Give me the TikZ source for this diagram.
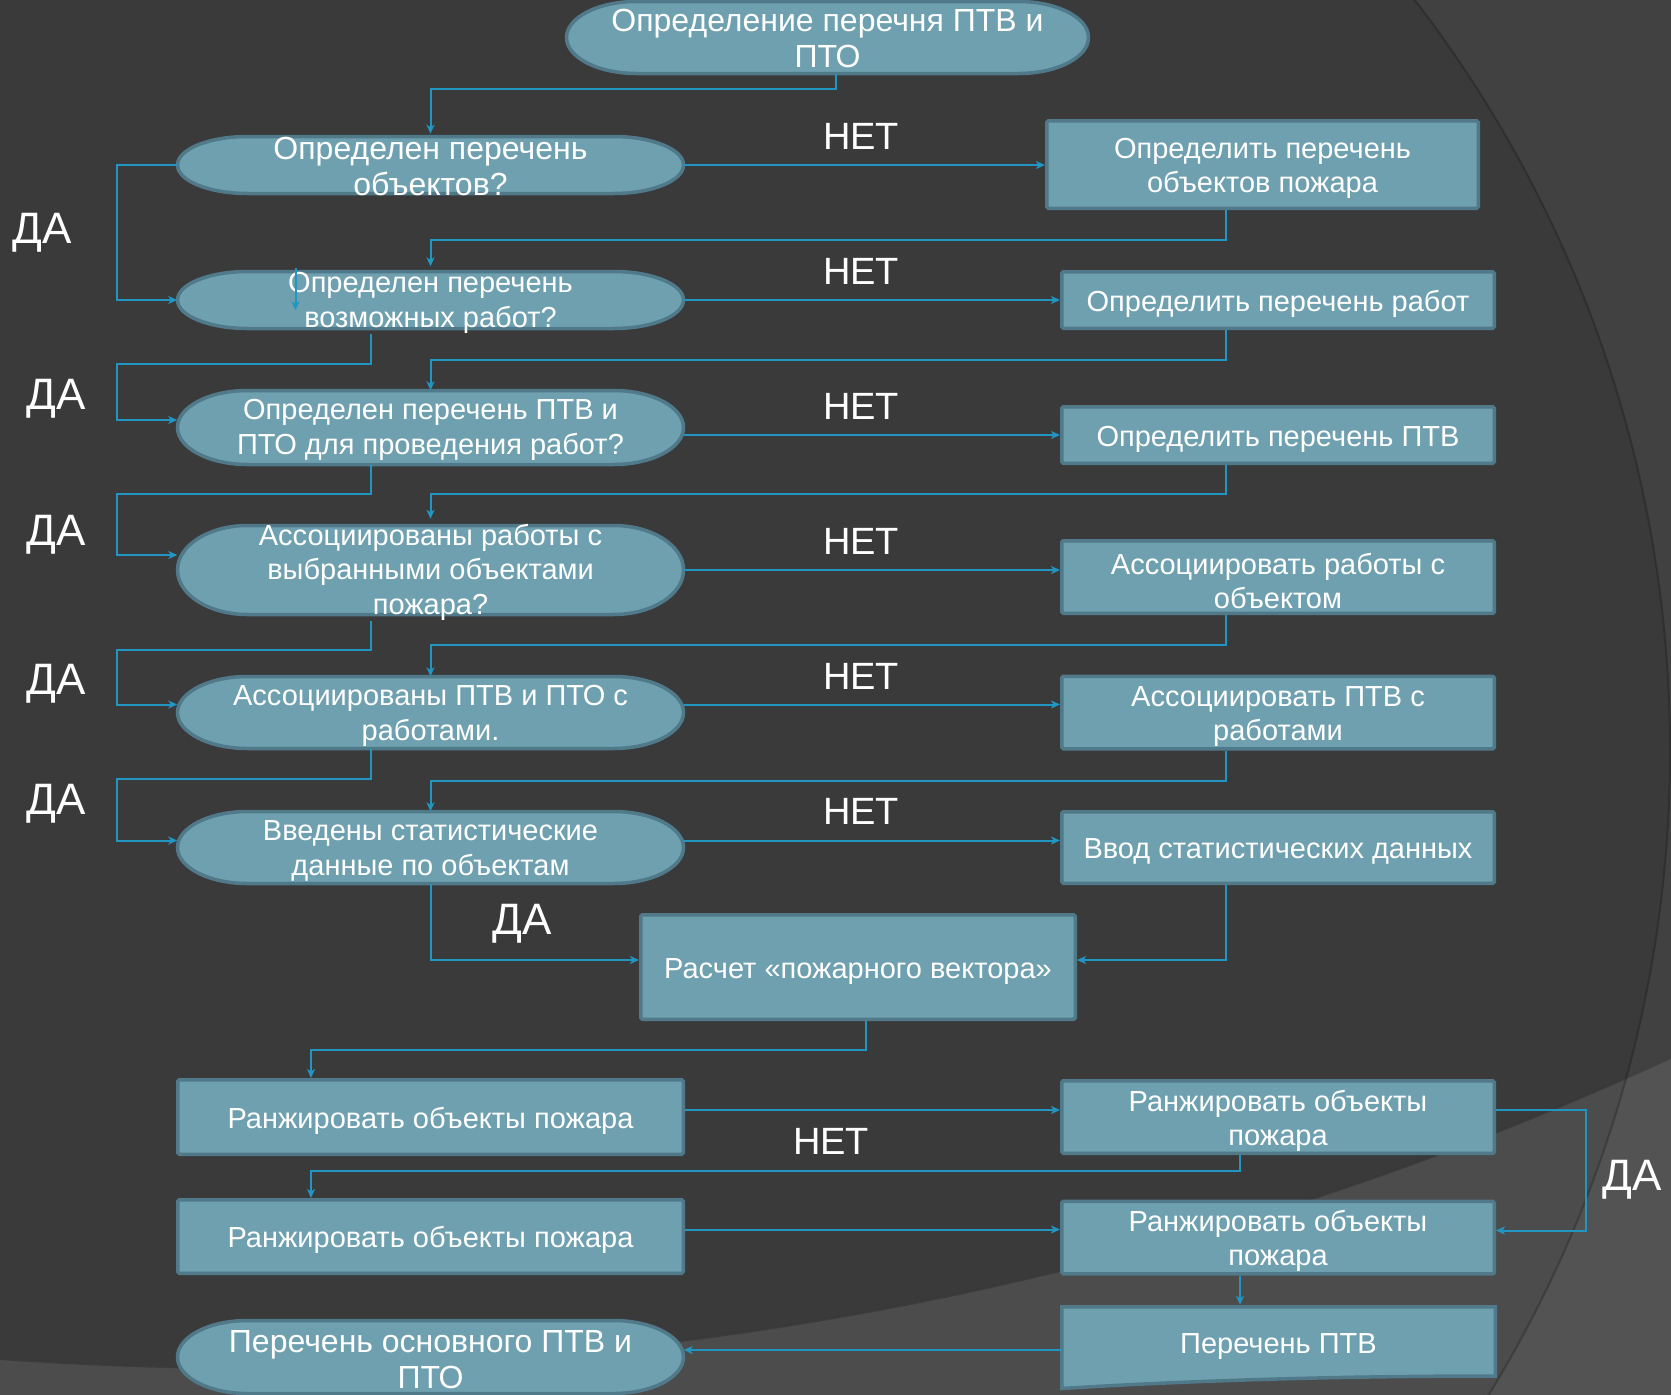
\documentclass[tikz,border=0pt]{standalone}
\usepackage{fontspec}
\setmainfont{Liberation Sans}
\usetikzlibrary{arrows.meta,calc}
\definecolor{bgA}{HTML}{3A3A3A}
\definecolor{bgB}{HTML}{414141}
\definecolor{bgC}{HTML}{4C4C4C}
\definecolor{bgD}{HTML}{535353}
\definecolor{nfill}{HTML}{6EA0AF}
\definecolor{nline}{HTML}{50798A}
\definecolor{conncol}{HTML}{2196C2}
\newcommand\fntbox{\fontsize{29}{34}\selectfont}
\newcommand\fntell{\fontsize{32}{36}\selectfont}
\newcommand\fntellb{\fontsize{29}{35}\selectfont}
\newcommand\fntlab{\fontsize{38}{40}\selectfont}
\newcommand\fntda{\fontsize{44}{46}\selectfont}
\newcommand\bst{\rule{0pt}{28.5pt}}
\tikzset{
  boxnode/.style={rectangle, fill=nfill, draw=nline, line width=3.5pt, rounded corners=1.5pt,
    text=white, align=center, font=\fntbox, inner sep=2pt},
  stadshape/.style={fill=nfill, draw=nline, line width=3.5pt},
  stadnode/.style={rectangle, draw=none, fill=none, text=white, align=center, inner sep=0pt},
  lab/.style={text=white, font=\fntlab, inner sep=0pt, text height=27pt, text depth=0pt},
  dalab/.style={text=white, font=\fntda, inner sep=0pt, text height=31.5pt, text depth=0pt},
  conn/.style={draw=conncol, line width=2pt, -{Stealth[length=9pt,width=8pt,inset=2.5pt]}},
}
% name, cx, cy(down), w, h, font, strut height, text
\newcommand\stad[8]{%
  \path[stadshape] (#2-#4/2+70, -#3+#5/2) -- (#2+#4/2-70, -#3+#5/2)
    arc[start angle=90, end angle=-90, x radius=70pt, y radius=#5pt/2]
    -- (#2-#4/2+70, -#3-#5/2)
    arc[start angle=270, end angle=90, x radius=70pt, y radius=#5pt/2] -- cycle;
  \node[stadnode, font=#6, minimum width=#4pt, minimum height=#5pt] (#1) at (#2,-#3) {\rule{0pt}{#7pt}#8};
}
\begin{document}
\begin{tikzpicture}[x=1pt,y=1pt]
\useasboundingbox (0,0) rectangle (1671,-1395);
\begin{scope}
  \clip (0,0) rectangle (1671,-1395);
  % background
  \fill[bgD] (0,0) rectangle (1671,-1395);
  \fill[bgC] (438,-751) circle[radius=1231pt];
  \begin{scope}
    \clip (250,2033) circle[radius=3400pt];
    \fill[bgB] (0,0) rectangle (1671,-1395);
    \fill[bgA] (438,-751) circle[radius=1231pt];
  \end{scope}
  \draw[black, opacity=0.25, line width=2pt] (438,-751) circle[radius=1232pt];
  \draw[black, opacity=0.2, line width=2pt] (250,2033) circle[radius=3401pt];

  % decision shapes
  \stad{T}{827.5}{37.5}{522}{72}{\fntell}{25}{Определение перечня ПТВ и\\ПТО}
  \stad{D1}{430.5}{165}{506}{57}{\fntell}{26}{Определен перечень\\объектов?}
  \stad{D2}{430.5}{300}{506}{57}{\fntellb}{26}{Определен перечень\\возможных работ?}
  \stad{D3}{430.5}{427.5}{506}{74}{\fntellb}{26}{Определен перечень ПТВ и\\ПТО для проведения работ?}
  \stad{D4}{430.5}{570}{506}{89}{\fntellb}{26}{Ассоциированы работы с\\выбранными объектами\\пожара?}
  \stad{D5}{430.5}{712.5}{506}{72}{\fntellb}{26}{Ассоциированы ПТВ и ПТО с\\работами.}
  \stad{D6}{430.5}{847.5}{506}{72}{\fntellb}{26}{Введены статистические\\данные по объектам}
  \stad{D7}{430.5}{1357}{506}{73}{\fntell}{27}{Перечень основного ПТВ и\\ПТО}

  % boxes
  \node[boxnode, minimum width=431.5pt, minimum height=87.5pt] (R1) at (1262.5,-164.5) {\bst Определить перечень\\объектов пожара};
  \node[boxnode, minimum width=432.5pt, minimum height=56.5pt] (R2) at (1278,-300) {\bst Определить перечень работ};
  \node[boxnode, minimum width=432.5pt, minimum height=56.5pt] (R3) at (1278,-435) {\bst Определить перечень ПТВ};
  \node[boxnode, minimum width=432.5pt, minimum height=72.5pt] (R4) at (1278,-577) {\bst Ассоциировать работы с\\объектом};
  \node[boxnode, minimum width=432.5pt, minimum height=71.5pt] (R5) at (1278,-712.5) {\bst Ассоциировать ПТВ с\\работами};
  \node[boxnode, minimum width=432.5pt, minimum height=71.5pt] (R6) at (1278,-847.5) {\bst Ввод статистических данных};
  \node[boxnode, minimum width=434.5pt, minimum height=104.5pt] (Calc) at (858,-967) {\bst Расчет «пожарного вектора»};
  \node[boxnode, minimum width=505.5pt, minimum height=74.5pt] (L1) at (430.5,-1117) {\bst Ранжировать объекты пожара};
  \node[boxnode, minimum width=505.5pt, minimum height=73.5pt] (L2) at (430.5,-1236.5) {\bst Ранжировать объекты пожара};
  \node[boxnode, minimum width=432.5pt, minimum height=70.5pt] (RB1) at (1278,-1117) {\bst Ранжировать объекты\\пожара};
  \node[boxnode, minimum width=432.5pt, minimum height=71.5pt] (RB2) at (1278,-1237.5) {\bst Ранжировать объекты\\пожара};
  % document shape
  \path[stadshape] (1061.75,-1306.75) -- (1495.25,-1306.75) -- (1495.25,-1376)
     .. controls (1300,-1376) and (1150,-1383) .. (1061.75,-1388.5) -- cycle;
  \node[stadnode, font=\fntbox, minimum width=433.5pt, minimum height=71pt] (PT) at (1278.5,-1342) {\bst Перечень ПТВ};

  % connectors: main flow
  \draw[conn] ([xshift=8.5pt]T.south) -- ++(0,-15) -| (D1.north);
  \draw[conn] (D1.east) -- (D1.east -| R1.west);
  \draw[conn] (D2.east) -- (D2.east -| R2.west);
  \draw[conn] (R3.west -| D3.east) -- (R3.west);
  \draw[conn] (D4.east) -- (D4.east -| R4.west);
  \draw[conn] ([yshift=8pt]D5.east) -- ([yshift=8pt]R5.west);
  \draw[conn] ([yshift=7pt]D6.east) -- ([yshift=7pt]R6.west);

  \draw[conn] ([xshift=-37pt]R1.south) -- ++(0,-30) -| (D2.north);
  \draw[conn] ([xshift=-52pt]R2.south) -- ++(0,-30) -| (D3.north);
  \draw[conn] ([xshift=-52pt]R3.south) -- ++(0,-29) -| (D4.north);
  \draw[conn] ([xshift=-52pt]R4.south) -- ++(0,-30) -| (D5.north);
  \draw[conn] ([xshift=-52pt]R5.south) -- ++(0,-30) -| (D6.north);
  \draw[conn] ([xshift=-52pt]R6.south) |- ([yshift=7pt]Calc.east);
  \draw[conn] (D6.south) |- ([yshift=7pt]Calc.west);

  % YES loops
  \coordinate (dax) at ([xshift=-60pt]D1.west);
  \draw[conn] (D1.west) -- (dax) |- (D2.west);
  \draw[conn] ([xshift=-59.5pt]D2.south) -- ++(0,-30) -| ([yshift=7.5pt]dax |- D3.west) -- ([yshift=7.5pt]D3.west);
  \draw[conn] ([xshift=-59.5pt]D3.south) -- ++(0,-29) -| ([yshift=15pt]dax |- D4.west) -- ([yshift=15pt]D4.west);
  \draw[conn] ([xshift=-59.5pt]D4.south) -- ++(0,-29) -| ([yshift=8pt]dax |- D5.west) -- ([yshift=8pt]D5.west);
  \draw[conn] ([xshift=-59.5pt]D5.south) -- ++(0,-30) -| ([yshift=7pt]dax |- D6.west) -- ([yshift=7pt]D6.west);

  % stray arrow inside D2
  \draw[conn] ([xshift=-135pt,yshift=-2pt]D2.north) -- ([xshift=-135pt,yshift=-44pt]D2.north);

  % lower part
  \draw[conn] ([xshift=8pt]Calc.south) -- ++(0,-29) -| ([xshift=-119.5pt]L1.north);
  \draw[conn] ([yshift=7pt]L1.east) -- ([yshift=7pt]L1.east -| RB1.west);
  \draw[conn] ([xshift=-38pt]RB1.south) -- ++(0,-16) -| ([xshift=-119.5pt]L2.north);
  \draw[conn] ([yshift=7pt]RB1.east) -- ++(90,0) |- ([yshift=7pt]RB2.east);
  \draw[conn] ([yshift=7pt]L2.east) -- ([yshift=7pt]L2.east -| RB2.west);
  \draw[conn] ([xshift=-38pt]RB2.south) -- ([xshift=-38.5pt,yshift=1.5pt]PT.north);
  \draw[conn] ([yshift=-8pt]PT.west) -- ([yshift=-8pt]PT.west -| D7.east);

  % labels
  \node[lab] (n1) at (861,-136) {НЕТ};
  \node[lab] (n2) at (861,-271) {НЕТ};
  \node[lab] (n3) at (861,-406) {НЕТ};
  \node[lab] (n4) at (861,-541) {НЕТ};
  \node[lab] (n5) at (861,-676) {НЕТ};
  \node[lab] (n6) at (861,-811) {НЕТ};
  \node[lab] (n7) at (831,-1141) {НЕТ};
  \node[dalab] (y1) at (42,-228) {ДА};
  \node[dalab] (y2) at (56,-394) {ДА};
  \node[dalab] (y3) at (56,-530) {ДА};
  \node[dalab] (y4) at (56,-679) {ДА};
  \node[dalab] (y5) at (56,-799) {ДА};
  \node[dalab] (y6) at (522,-919) {ДА};
  \node[dalab] (y7) at (1632,-1175) {ДА};
\end{scope}
\end{tikzpicture}
\end{document}
